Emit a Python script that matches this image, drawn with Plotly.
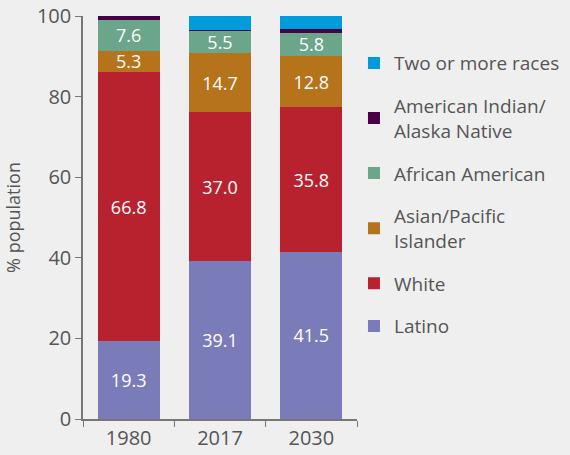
import plotly.graph_objects as go

# California population by race/ethnicity (% of population)
years = ["1980", "2017", "2030"]

latino = [19.3, 39.1, 41.5]
white = [66.8, 37.0, 35.8]
asian_pi = [5.3, 14.7, 12.8]
african_american = [7.6, 5.5, 5.8]
american_indian = [1.0, 0.3, 0.9]
two_or_more = [0.0, 3.4, 3.2]

series = [
    ("Latino", latino, "#7a7bb9", True),
    ("White", white, "#b8222f", True),
    ("Asian/Pacific<br>Islander", asian_pi, "#b5731b", True),
    ("African American", african_american, "#6ba58a", True),
    ("American Indian/<br>Alaska Native", american_indian, "#4a0047", False),
    ("Two or more races", two_or_more, "#009bdb", False),
]

grey = "#555555"
font = "'Open Sans', sans-serif"

fig = go.Figure()
for i, (name, vals, color, labelled) in enumerate(series):
    fig.add_trace(go.Bar(
        x=years, y=vals, name=name,
        marker=dict(color=color, line=dict(width=0)),
        text=[f"{v:.1f}" for v in vals] if labelled else None,
        textposition="inside" if labelled else "none",
        insidetextanchor="middle",
        textangle=0,
        constraintext="none",
        textfont=dict(color="white", size=18, family=font),
        legendgroup=str(i),
        legendrank=100 - i,
        hoverinfo="x+y+name",
    ))

fig.update_layout(
    barmode="stack",
    bargap=0.32,
    width=570, height=455,
    margin=dict(l=83, r=213, t=16, b=36, autoexpand=False),
    paper_bgcolor="#efefef",
    plot_bgcolor="#efefef",
    font=dict(family=font, color=grey, size=18),
    legend=dict(
        xref="container", yref="container",
        x=0.621, y=0.903, xanchor="left", yanchor="top",
        traceorder="grouped",
        tracegroupgap=15,
        maxheight=420,
        font=dict(size=19, color=grey),
        bgcolor="rgba(0,0,0,0)",
        itemwidth=30,
    ),
    showlegend=True,
)
fig.update_xaxes(
    showline=True, linecolor="#777777", linewidth=1.5,
    ticks="outside", tickson="boundaries", ticklen=6, tickcolor="#777777",
    tickfont=dict(size=20, color=grey),
    showgrid=False, automargin=False,
)
fig.update_yaxes(
    range=[0, 100], dtick=20,
    showline=True, linecolor="#777777", linewidth=1.5,
    ticks="outside", ticklen=6, tickcolor="#777777",
    tickfont=dict(size=20, color=grey),
    showgrid=False, zeroline=False, automargin=False,
    title=dict(text="% population", font=dict(size=18, color=grey), standoff=12),
)

# the page's default body margin would shift the chart off the window
fig.write_html(
    "out.html",
    config={"displayModeBar": False},
    post_script="document.body.style.margin='0';",
)
